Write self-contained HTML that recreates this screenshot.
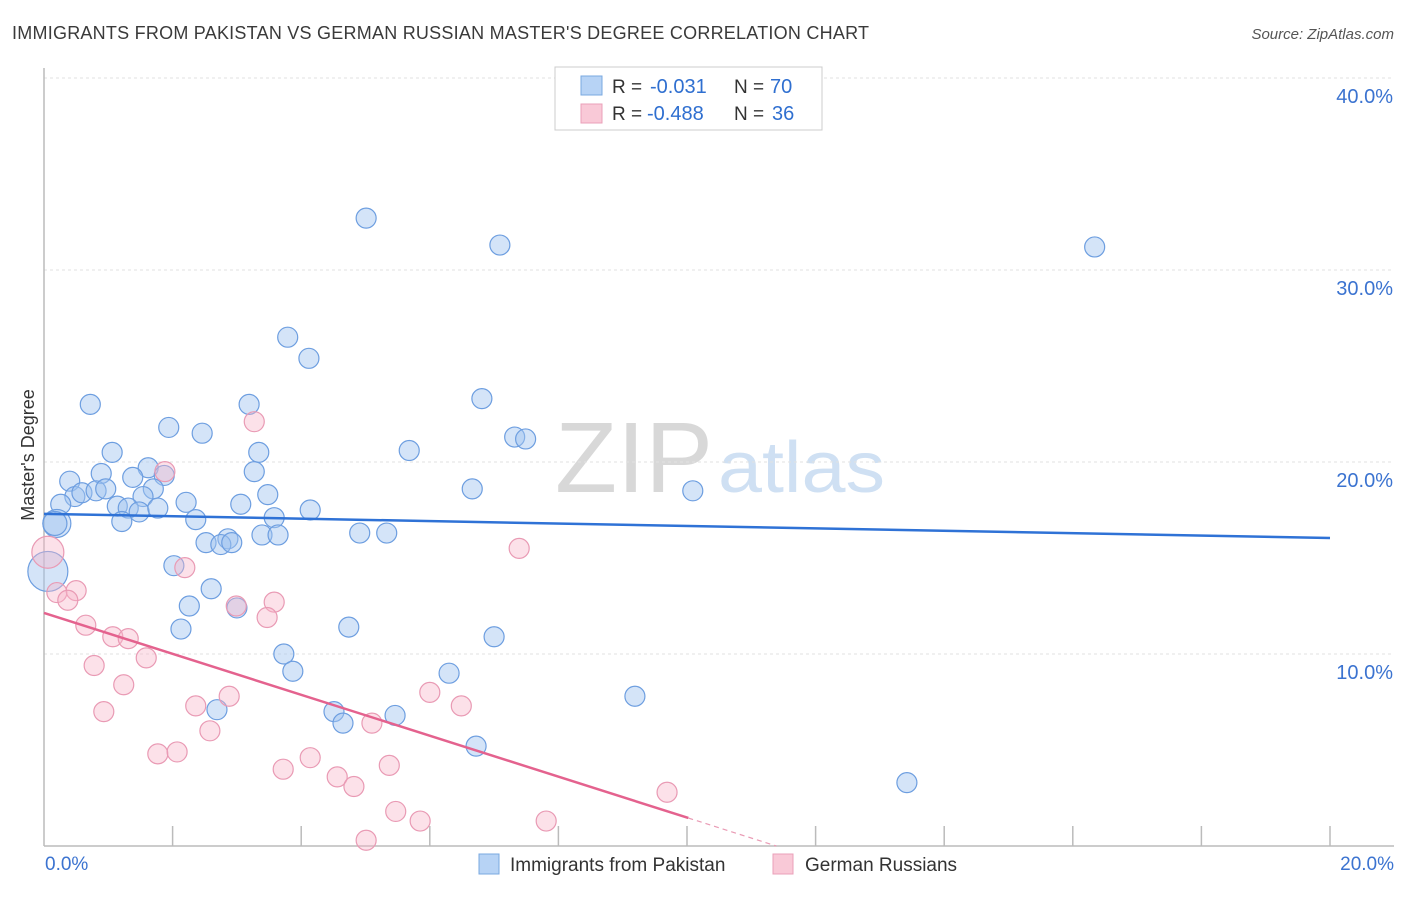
<!DOCTYPE html>
<html><head><meta charset="utf-8"><style>
body{margin:0;background:#fff;font-family:"Liberation Sans",sans-serif}
svg text{font-family:"Liberation Sans",sans-serif}
</style></head><body>
<svg id="chart" width="1406" height="892" xmlns="http://www.w3.org/2000/svg">
<text x="12" y="39" font-size="18" fill="#3a3a3a" textLength="857" lengthAdjust="spacing">IMMIGRANTS FROM PAKISTAN VS GERMAN RUSSIAN MASTER'S DEGREE CORRELATION CHART</text>
<text x="1394" y="39" font-size="15" fill="#555" text-anchor="end" font-style="italic">Source: ZipAtlas.com</text>
<text x="555" y="492" font-size="100" fill="#d8d8d8" textLength="158" lengthAdjust="spacingAndGlyphs" font-family="Liberation Serif">ZIP</text>
<text x="718" y="492" font-size="72" fill="#cfe0f3" textLength="167" lengthAdjust="spacingAndGlyphs">atlas</text>
<g id="grid"></g><g id="axes"></g><g id="pts"></g><g id="lines"></g>
<text x="34" y="455" font-size="18" fill="#333" text-anchor="middle" transform="rotate(-90 34 455)">Master's Degree</text>
<g>
<rect x="555" y="67" width="267" height="63" fill="#fff" stroke="#ccc"/>
<rect x="581" y="76" width="21" height="19" fill="#b7d3f5" stroke="#7aa8e0"/>
<rect x="581" y="104" width="21" height="19" fill="#f9c9d7" stroke="#eaa0b8"/>
<text x="612" y="93" font-size="19" fill="#333">R =</text><text x="650" y="93" font-size="20" fill="#2f6fd0">-0.031</text>
<text x="734" y="93" font-size="19" fill="#333">N =</text><text x="770" y="93" font-size="20" fill="#2f6fd0">70</text>
<text x="612" y="120" font-size="19" fill="#333">R =</text><text x="647" y="120" font-size="20" fill="#2f6fd0">-0.488</text>
<text x="734" y="120" font-size="19" fill="#333">N =</text><text x="772" y="120" font-size="20" fill="#2f6fd0">36</text>
</g>
<g>
<rect x="479" y="854" width="20" height="20" fill="#b7d3f5" stroke="#7aa8e0"/>
<text x="510" y="871" font-size="19" fill="#333">Immigrants from Pakistan</text>
<rect x="773" y="854" width="20" height="20" fill="#f9c9d7" stroke="#eaa0b8"/>
<text x="805" y="871" font-size="19" fill="#333">German Russians</text>
</g>
</svg>
<script>
const yTicks=[10,20,30,40];
const yTickLabels=["10.0%","20.0%","30.0%","40.0%"];
const xTickLabels=["0.0%","20.0%"];
const blueX=[5.01,7.09,16.34,3.79,4.12,0.72,6.81,3.19,1.94,2.46,7.32,7.49,5.68,1.06,3.34,1.62,0.89,3.27,1.87,0.40,1.38,1.70,6.66,10.09,0.48,0.59,0.81,0.96,0.26,1.14,1.54,2.21,3.06,3.48,1.31,1.48,1.77,4.14,0.20,0.17,1.21,2.36,3.58,3.39,3.64,4.91,5.33,2.52,2.86,2.75,2.92,0.06,2.02,2.60,2.26,3.00,2.13,4.74,7.00,3.73,3.87,6.30,2.69,9.19,4.51,4.65,5.46,6.72,13.42];
const blueY=[32.7,31.3,31.2,26.5,25.4,23.0,23.3,23.0,21.8,21.5,21.3,21.2,20.6,20.5,20.5,19.7,19.4,19.5,19.3,19.0,19.2,18.6,18.6,18.5,18.2,18.4,18.5,18.6,17.8,17.7,18.2,17.9,17.8,18.3,17.6,17.4,17.6,17.5,16.8,16.8,16.9,17.0,17.1,16.2,16.2,16.3,16.3,15.8,16.0,15.7,15.8,14.3,14.6,13.4,12.5,12.4,11.3,11.4,10.9,10.0,9.1,9.0,7.1,7.8,7.0,6.4,6.8,5.2,3.3];
const blueR=[10,10,10,10,10,10,10,10,10,10,10,10,10,10,10,10,10,10,10,10,10,10,10,10,10,10,10,10,10,10,10,10,10,10,10,10,10,10,14,12,10,10,10,10,10,10,10,10,10,10,10,20,10,10,10,10,10,10,10,10,10,10,10,10,10,10,10,10,10];
const pinkX=[3.27,1.88,0.06,7.39,2.19,0.20,0.50,0.37,2.99,3.58,3.47,0.65,1.07,1.31,1.59,0.78,1.24,2.88,2.36,6.00,6.49,0.93,2.58,5.10,1.77,2.07,4.14,3.72,5.37,4.56,4.82,9.69,5.47,5.85,7.81,5.01];
const pinkY=[22.1,19.5,15.3,15.5,14.5,13.2,13.3,12.8,12.5,12.7,11.9,11.5,10.9,10.8,9.8,9.4,8.4,7.8,7.3,8.0,7.3,7.0,6.0,6.4,4.8,4.9,4.6,4.0,4.2,3.6,3.1,2.8,1.8,1.3,1.3,0.3];
const pinkR=[10,10,16,10,10,10,10,10,10,10,10,10,10,10,10,10,10,10,10,10,10,10,10,10,10,10,10,10,10,10,10,10,10,10,10,10];
const blueLine=[17.3,16.04];
const pinkLine=[12.14,-1.066];
const NS="http://www.w3.org/2000/svg";
const X=v=>44+v*64.3, Y=v=>846-v*19.2;
function mk(tag,attrs,parent,txt){const e=document.createElementNS(NS,tag);for(const k in attrs)e.setAttribute(k,attrs[k]);if(txt)e.textContent=txt;document.getElementById(parent).appendChild(e);return e;}
yTicks.forEach((t,i)=>{
 const g=mk('line',{x1:44,x2:1394,y1:Y(t),y2:Y(t),stroke:'#e2e2e2','stroke-width':1,'stroke-dasharray':'3 3'},'grid');
 
 
 const l=mk('text',{x:1393,y:Y(t)+25,'font-size':20,fill:'#3b73d0','text-anchor':'end'},'grid',yTickLabels[i]);
 
 
});
const ax=mk('line',{x1:44,x2:1394,y1:846,y2:846,stroke:'#bbb','stroke-width':1.5},'axes');


const ay=mk('line',{x1:44,x2:44,y1:68,y2:846,stroke:'#bbb','stroke-width':1.5},'axes');


for(let i=1;i<=10;i++){const t=mk('line',{x1:X(i*2),x2:X(i*2),y1:826,y2:846,stroke:'#bbb','stroke-width':1.5},'axes');
 
 }
const xl0=mk('text',{x:45,y:870,'font-size':19,fill:'#3b73d0'},'axes',xTickLabels[0]);


const xl1=mk('text',{x:1394,y:870,'font-size':19,fill:'#3b73d0','text-anchor':'end'},'axes',xTickLabels[1]);


blueX.forEach((v,i)=>{const c=mk('circle',{cx:X(v),cy:Y(blueY[i]),r:blueR[i],fill:'rgba(160,196,240,0.45)',stroke:'#6d9ee0','stroke-width':1.2},'pts');
 
 });
pinkX.forEach((v,i)=>{const c=mk('circle',{cx:X(v),cy:Y(pinkY[i]),r:pinkR[i],fill:'rgba(247,180,200,0.4)',stroke:'#e99ab4','stroke-width':1.2},'pts');
 
 });
const bl=mk('line',{x1:X(0),y1:Y(blueLine[0]),x2:X(20),y2:Y(blueLine[1]),stroke:'#2f72d6','stroke-width':2.5},'lines');


const pEnd=10.02, z=-pinkLine[0]/pinkLine[1];
const pl=mk('line',{x1:X(0),y1:Y(pinkLine[0]),x2:X(pEnd),y2:Y(pinkLine[0]+pinkLine[1]*pEnd),stroke:'#e4628e','stroke-width':2.5},'lines');


const pd=mk('line',{x1:X(pEnd),y1:Y(pinkLine[0]+pinkLine[1]*pEnd),x2:X(z),y2:Y(0),stroke:'#e99ab4','stroke-width':1.2,'stroke-dasharray':'5 4'},'lines');


</script>
</body></html>
